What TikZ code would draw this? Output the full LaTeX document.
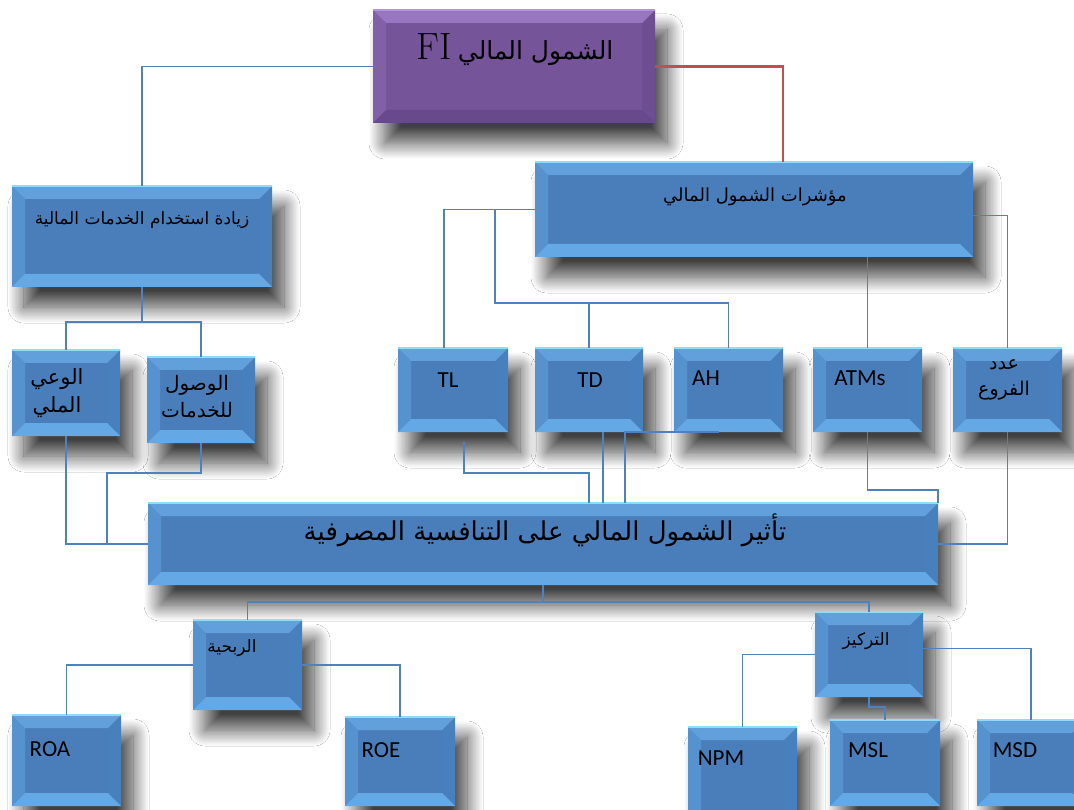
\documentclass[tikz,border=0pt]{standalone}
\usepackage{fontspec}
\usetikzlibrary{fit,shadows.blur,calc}
\TeXXeTstate=1
\newfontfamily\arabicfont[Script=Arabic]{DejaVu Sans}
\newfontfamily\latinsans{Carlito}

\definecolor{blueface}{RGB}{74,126,187}
\definecolor{bluetop}{RGB}{98,160,220}
\definecolor{bluebot}{RGB}{100,168,230}
\definecolor{blueleft}{RGB}{86,146,206}
\definecolor{blueright}{RGB}{72,128,190}
\definecolor{bluehi}{RGB}{140,220,250}
\definecolor{purpleface}{RGB}{118,84,154}
\definecolor{purpletop}{RGB}{152,118,192}
\definecolor{purplebot}{RGB}{104,74,140}
\definecolor{purpleleft}{RGB}{130,96,168}
\definecolor{purpleright}{RGB}{110,78,146}
\definecolor{purplehi}{RGB}{178,148,218}
\definecolor{connblue}{RGB}{79,129,189}
\definecolor{connred}{RGB}{192,80,77}

\newcommand\arf[1]{\arabicfont\fontsize{#1}{#1}\selectfont}
\def\bd{13pt}

% bevelled face drawn over a fitted box node
\newcommand\bevelfaces[2]{%
  \fill[#2left] (#1.north west) -- ([shift={(\bd,-\bd)}]#1.north west) -- ([shift={(\bd,\bd)}]#1.south west) -- (#1.south west) -- cycle;
  \fill[#2right] (#1.north east) -- ([shift={(-\bd,-\bd)}]#1.north east) -- ([shift={(-\bd,\bd)}]#1.south east) -- (#1.south east) -- cycle;
  \fill[#2top] (#1.north west) -- (#1.north east) -- ([shift={(-\bd,-\bd)}]#1.north east) -- ([shift={(\bd,-\bd)}]#1.north west) -- cycle;
  \fill[#2bot] (#1.south west) -- (#1.south east) -- ([shift={(-\bd,\bd)}]#1.south east) -- ([shift={(\bd,\bd)}]#1.south west) -- cycle;
  \draw[#2hi, line width=1.5pt] (#1.north west) -- (#1.north east);
}
% box: [scheme] name, x1, y1, x2, y2
\newcommand\bbox[6][blue]{%
  \node[boxbase, fill=#1face, fit={(#3,#4)(#5,#6)}] (#2) {};
  \bevelfaces{#2}{#1}%
}

\tikzset{
  boxbase/.style={inner sep=0pt, outer sep=0pt,
    blur shadow={shadow xshift=12pt, shadow yshift=-20pt, shadow blur radius=16pt,
      shadow blur steps=28, shadow opacity=75}},
  conn/.style={draw=connblue, line width=1.1pt},
  redconn/.style={draw=connred, line width=2.6pt},
  lbl/.style={inner sep=0pt, align=center, text=black},
  lat/.style={lbl, font=\latinsans\fontsize{23}{23}\selectfont},
}

\begin{document}
\begin{tikzpicture}[x=1pt,y=-1pt]
\path[use as bounding box, clip] (0,0) rectangle (1074,810);
\fill[white] (0,0) rectangle (1074,810);

% boxes
\bbox[purple]{fi}{373}{10}{655}{123}
\bbox{use}{12}{186}{272}{287}
\bbox{ind}{535}{162}{973}{257}
\bbox{aw}{12}{350}{120}{436}
\bbox{acc}{147}{357}{255}{443}
\bbox{tl}{398}{348}{508}{432}
\bbox{td}{535}{348}{643}{432}
\bbox{ah}{674}{348}{783}{432}
\bbox{atm}{813}{348}{922}{432}
\bbox{br}{953}{348}{1062}{432}
\bbox{imp}{148}{503}{938}{585}
\bbox{prof}{193}{620}{302}{710}
\bbox{conc}{815}{612}{923}{697}
\bbox{roa}{12}{715}{121}{806}
\bbox{roe}{345}{717}{455}{806}
\bbox{npm}{688}{727}{797}{830}
\bbox{msl}{830}{720}{940}{806}
\bbox{msd}{977}{720}{1085}{806}

% labels
\node[lbl] (fi-t) at (515,50) {{\fontsize{38}{38}\selectfont FI}\hspace{6pt}{\arf{25}\beginR الشمول المالي\endR}};
\node[lbl] (use-t) at (142,220) {\arf{17}\beginR زيادة استخدام الخدمات المالية\endR};
\node[lbl] (ind-t) at (755,197) {\arf{18}\beginR مؤشرات الشمول المالي\endR};
\node[lbl] (aw-t) at (57,393) {{\arf{21}\beginR الوعي\endR}\\[6pt]{\arf{21}\beginR الملي\endR}};
\node[lbl] (acc-t) at (197,397) {{\arf{20}\beginR الوصول\endR}\\[6pt]{\arf{20}\beginR للخدمات\endR}};
\node[lbl] (br-t) at (1004,380) {{\arf{19}\beginR عدد\endR}\\[10pt]{\arf{19}\beginR الفروع\endR}};
\node[lbl] (imp-t) at (545,530) {\arf{26}\beginR تأثير الشمول المالي على التنافسية المصرفية\endR};
\node[lbl] (prof-t) at (232,648) {\arf{17}\beginR الربحية\endR};
\node[lbl] (conc-t) at (866,641) {\arf{17}\beginR التركيز\endR};
\node[lat] (tl-t) at (448,380) {TL};
\node[lat] (td-t) at (590,380) {TD};
\node[lat] (ah-t) at (706,378) {AH};
\node[lat] (atm-t) at (860,378) {ATMs};
\node[lat] (roa-t) at (50,749) {ROA};
\node[lat] (roe-t) at (381,750) {ROE};
\node[lat] (npm-t) at (721,758) {NPM};
\node[lat] (msl-t) at (868,750) {MSL};
\node[lat] (msd-t) at (1015,750) {MSD};

% bend points of the routed connectors
\coordinate (tdbus) at (495,303);
\coordinate (accbend) at (107,473);
\coordinate (tlbend) at (589,473);
\coordinate (ahbend) at (625,432);
\coordinate (impbus) at (543,602);

% top level
\draw[conn] (fi.west) -| (use.north);
\draw[redconn] (fi.east) -| ([xshift=29pt]ind.north);

% usage branch
\draw[conn] (use.south) -- ++(0,35) -| (aw.north);
\draw[conn] (use.south) -- ++(0,35) -| (acc.north);

% indicators branch
\draw[conn] (ind.west) -| ([xshift=-9pt]tl.north);
\draw[conn] (ind.west) -| (tdbus) -| (td.north);
\draw[conn] (tdbus) -| (ah.north);
\draw[conn] (atm.north) -- (atm.north |- ind.south);
\draw[conn] ([yshift=-6pt]ind.east) -| (br.north);

% into the impact box
\draw[conn] (aw.south) |- (imp.west);
\draw[conn] (acc.south) |- (accbend) |- (imp.west);
\draw[conn] ([shift={(11pt,-10pt)}]tl.south) |- (tlbend) -- (tlbend |- imp.north);
\draw[conn] ([xshift=14pt]td.south) -- ([xshift=14pt]td.south |- imp.north);
\draw[conn] ([xshift=-10pt]ah.south) -- (ahbend) -- (ahbend |- imp.north);
\draw[conn] (atm.south) |- ([yshift=13pt]imp.north east) -- (imp.north east);
\draw[conn] (br.south) |- (imp.east);

% impact to its two measures
\draw[conn] (imp.south) -- (impbus) -| (prof.north);
\draw[conn] (impbus) -| (conc.north);
\draw[conn] (prof.west) -| (roa.north);
\draw[conn] (prof.east) -| (roe.north);
\draw[conn] (conc.west) -| (npm.north);
\draw[conn] ([yshift=6pt]conc.east) -| (msd.north);
\draw[conn] (conc.south) -- ++(0,10) -| (msl.north);
\end{tikzpicture}
\end{document}
